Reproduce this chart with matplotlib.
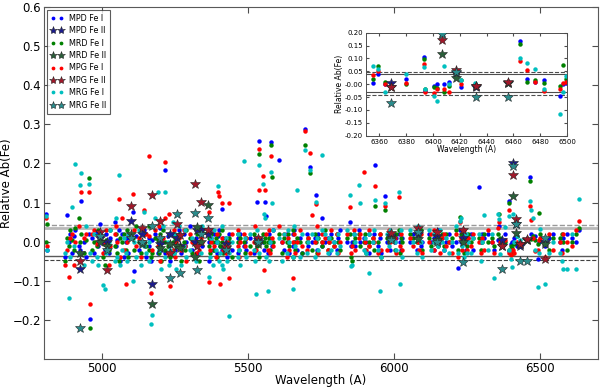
import matplotlib
matplotlib.use('Agg')
import matplotlib.pyplot as plt
import numpy as np

# Fe I lines: wavelength and relative abundance for each star
fe1_wave = [4809, 4810, 4871, 4881, 4886, 4891, 4898, 4903, 4906, 4919,
            4924, 4929, 4938, 4946, 4954, 4957, 4966, 4973, 4982, 4985,
            4994, 5002, 5010, 5014, 5023, 5028, 5044, 5049, 5051, 5058,
            5060, 5067, 5074, 5081, 5084, 5090, 5105, 5109, 5115, 5127,
            5133, 5142, 5144, 5150, 5159, 5162, 5166, 5171, 5180, 5192,
            5194, 5198, 5202, 5208, 5214, 5216, 5225, 5229, 5232, 5242,
            5247, 5250, 5253, 5263, 5269, 5281, 5284, 5288, 5302, 5307,
            5322, 5324, 5332, 5339, 5341, 5365, 5367, 5369, 5373, 5379,
            5383, 5389, 5393, 5398, 5400, 5405, 5410, 5412, 5415, 5424,
            5429, 5434, 5436, 5445, 5464, 5466, 5470, 5473, 5487, 5491,
            5494, 5506, 5522, 5525, 5528, 5530, 5537, 5539, 5551, 5554,
            5559, 5563, 5569, 5572, 5576, 5580, 5583, 5586, 5606, 5618,
            5624, 5633, 5638, 5641, 5653, 5655, 5658, 5662, 5668, 5679,
            5686, 5694, 5701, 5705, 5714, 5719, 5731, 5734, 5738, 5741,
            5753, 5755, 5762, 5775, 5778, 5784, 5793, 5806, 5809, 5815,
            5838, 5848, 5852, 5855, 5862, 5866, 5880, 5883, 5897, 5902,
            5905, 5914, 5916, 5927, 5930, 5934, 5947, 5952, 5956, 5969,
            5975, 5984, 5987, 6003, 6008, 6018, 6022, 6024, 6027, 6056,
            6065, 6078, 6082, 6085, 6093, 6096, 6120, 6127, 6136, 6137,
            6151, 6157, 6165, 6173, 6180, 6187, 6200, 6213, 6219, 6226,
            6230, 6232, 6240, 6246, 6252, 6254, 6265, 6270, 6293, 6297,
            6301, 6310, 6322, 6335, 6342, 6355, 6359, 6364, 6380, 6393,
            6394, 6401, 6403, 6408, 6412, 6421, 6431, 6465, 6470, 6476,
            6483, 6495, 6497, 6499, 6518, 6533, 6546, 6569, 6575, 6581,
            6593, 6609, 6625, 6633]

mpd_fe1 = [0.07, -0.02, -0.04, 0.067, 0.0, 0.02, -0.03, 0.015, 0.03, -0.01,
           -0.02, 0.105, 0.0, -0.04, 0.02, -0.198, 0.01, -0.03, 0.025, -0.01,
           0.045, 0.0, -0.02, 0.02, -0.03, 0.01, 0.05, -0.01, 0.005, 0.03,
           -0.05, 0.02, -0.04, 0.0, 0.01, -0.03, 0.077, -0.076, 0.015, -0.02,
           0.0, 0.03, 0.02, -0.04, 0.01, -0.01, -0.05, 0.005, 0.02, -0.03,
           0.0, 0.035, -0.02, 0.0, 0.183, -0.03, 0.015, -0.01, -0.05, 0.02,
           0.0, -0.02, 0.01, 0.03, -0.03, 0.02, -0.01, 0.0, 0.04, -0.02,
           0.01, -0.03, 0.0, 0.02, -0.01, 0.0, -0.05, 0.03, 0.01, -0.02,
           0.02, 0.0, -0.03, 0.015, 0.03, -0.01, 0.084, -0.02, 0.01, 0.0,
           -0.04, 0.02, 0.0, -0.02, 0.01, -0.03, 0.0, 0.02, -0.01, 0.0,
           -0.02, 0.01, -0.03, 0.0, 0.01, 0.102, 0.258, 0.01, 0.0, -0.02,
           0.101, 0.065, -0.03, 0.02, 0.0, 0.254, -0.01, 0.03, 0.209, 0.0,
           -0.02, 0.02, 0.0, -0.03, 0.02, -0.01, 0.03, 0.0, -0.02, 0.01,
           -0.03, 0.288, 0.02, -0.01, 0.192, 0.0, 0.01, 0.12, -0.02, 0.02,
           0.061, -0.01, 0.0, 0.01, -0.03, 0.02, 0.0, -0.02, 0.01, 0.03,
           0.0, 0.05, -0.01, 0.0, 0.02, -0.01, 0.03, 0.0, 0.01, -0.02,
           0.0, 0.02, -0.03, 0.0, 0.02, 0.196, -0.01, 0.01, -0.03, 0.116,
           0.0, 0.02, -0.02, 0.0, 0.01, 0.02, 0.0, -0.02, 0.01, 0.0,
           0.02, -0.02, 0.01, 0.03, -0.01, 0.0, 0.02, 0.0, 0.01, -0.02,
           0.03, 0.0, 0.01, -0.02, 0.0, 0.02, -0.01, 0.0, -0.067, 0.03,
           0.0, 0.02, 0.01, -0.02, 0.0, 0.01, 0.02, -0.02, 0.141, 0.0,
           0.02, 0.01, 0.02, 0.0, -0.02, 0.005, 0.04, 0.0, 0.02, 0.105,
           -0.025, -0.005, 0.0, 0.0, 0.01, -0.01, -0.01, 0.166, 0.02, 0.01,
           0.015, -0.045, 0.0, 0.005, -0.01, 0.01, 0.02, 0.0, -0.02, 0.01,
           0.02, 0.01, 0.0, 0.03]

mrd_fe1 = [0.0, 0.045, -0.05, 0.01, -0.01, 0.03, 0.005, -0.02, 0.035, 0.06,
           0.0, 0.02, -0.03, 0.005, 0.163, -0.22, -0.02, 0.0, -0.01, 0.03,
           0.02, -0.04, -0.06, 0.005, -0.02, 0.03, -0.01, 0.02, -0.03, -0.05,
           0.01, 0.0, 0.02, -0.02, 0.03, -0.04, 0.01, -0.02, 0.04, 0.0,
           -0.03, 0.02, 0.0, -0.01, 0.04, -0.02, -0.04, -0.03, 0.01, 0.005,
           -0.03, 0.02, -0.05, 0.03, 0.0, -0.02, -0.01, 0.02, -0.04, 0.0,
           -0.03, 0.01, -0.01, 0.02, -0.05, 0.0, -0.02, 0.03, 0.01, -0.03,
           -0.01, 0.02, -0.05, 0.0, 0.03, -0.01, 0.01, -0.03, 0.02, 0.0,
           -0.02, 0.01, -0.04, 0.0, 0.02, -0.01, 0.03, 0.0, -0.03, 0.01,
           -0.02, 0.0, 0.01, -0.04, 0.02, 0.0, -0.02, 0.01, 0.0, -0.03,
           0.01, -0.01, 0.02, -0.02, 0.0, -0.01, 0.224, -0.04, 0.02, 0.0,
           0.01, -0.01, 0.0, 0.01, -0.02, 0.248, 0.166, 0.0, 0.02, -0.03,
           0.01, 0.0, 0.02, -0.01, 0.03, -0.04, 0.0, -0.02, 0.01, 0.0,
           -0.03, 0.247, 0.0, 0.01, 0.175, -0.02, 0.02, 0.0, -0.03, 0.01,
           0.0, -0.01, 0.03, -0.02, 0.0, 0.01, -0.01, 0.02, 0.0, -0.02,
           0.01, 0.02, -0.04, -0.05, 0.0, 0.01, 0.02, -0.01, 0.0, 0.02,
           -0.03, 0.0, -0.01, 0.01, -0.02, 0.092, 0.0, 0.02, -0.04, 0.08,
           0.01, 0.0, 0.01, -0.02, 0.02, 0.03, -0.03, 0.01, 0.0, 0.02,
           0.01, 0.0, 0.02, 0.0, 0.03, -0.02, 0.01, -0.01, 0.02, 0.0,
           -0.01, 0.01, 0.02, -0.01, 0.02, 0.0, 0.01, 0.03, -0.02, 0.063,
           0.02, 0.0, -0.03, 0.01, -0.01, 0.02, 0.0, 0.01, 0.01, -0.02,
           0.0, 0.02, 0.0, 0.01, -0.01, 0.02, 0.07, 0.01, 0.0, 0.098,
           -0.02, -0.01, -0.015, -0.03, -0.005, 0.015, -0.01, 0.155, 0.007, 0.015,
           0.005, -0.005, 0.074, 0.02, 0.0, -0.02, 0.01, 0.01, 0.02, 0.0,
           -0.02, 0.0, 0.02, 0.035]

mpg_fe1 = [0.06, -0.01, -0.06, -0.02, -0.09, 0.01, 0.02, -0.06, 0.0, 0.04,
           -0.03, 0.126, 0.01, 0.02, 0.127, -0.158, 0.02, 0.03, -0.005, 0.0,
           0.025, -0.03, -0.005, 0.03, -0.06, -0.01, 0.02, 0.04, 0.0, 0.109,
           -0.04, 0.06, -0.02, -0.109, 0.0, 0.02, 0.122, 0.03, -0.01, 0.01,
           -0.04, 0.0, 0.08, 0.02, 0.015, 0.22, -0.13, -0.02, 0.03, -0.01,
           0.04, -0.05, 0.0, 0.01, 0.205, 0.06, -0.03, 0.07, -0.114, -0.02,
           0.03, -0.04, 0.0, 0.01, -0.02, 0.03, -0.01, -0.05, 0.02, 0.0,
           -0.03, 0.03, -0.02, 0.01, 0.0, 0.075, -0.104, -0.02, 0.0, 0.03,
           -0.01, -0.04, 0.02, 0.128, 0.118, -0.107, 0.098, 0.01, -0.02, -0.03,
           0.0, -0.093, 0.098, 0.02, -0.01, 0.03, -0.04, 0.0, 0.02, -0.01,
           0.01, -0.03, 0.0, 0.04, -0.02, 0.0, 0.238, 0.131, 0.169, -0.073,
           0.131, 0.02, -0.02, 0.03, -0.03, 0.218, 0.01, -0.01, 0.04, 0.0,
           0.02, -0.04, 0.01, -0.02, 0.0, -0.094, 0.02, -0.03, 0.0, 0.03,
           -0.01, 0.282, -0.02, 0.01, 0.226, 0.069, 0.0, 0.097, 0.04, -0.03,
           0.02, 0.0, 0.01, -0.02, 0.0, 0.03, -0.01, 0.02, -0.03, 0.0,
           0.02, 0.088, -0.03, -0.01, 0.03, -0.02, 0.01, 0.02, 0.177, 0.0,
           -0.02, 0.03, -0.01, 0.01, 0.0, 0.143, -0.03, 0.02, -0.02, 0.09,
           -0.02, 0.03, 0.0, 0.01, -0.03, 0.115, -0.01, 0.02, -0.02, 0.01,
           -0.01, 0.03, 0.0, -0.02, 0.02, -0.03, 0.0, 0.02, -0.02, 0.03,
           0.0, -0.03, 0.01, 0.02, -0.01, 0.0, -0.03, 0.02, -0.04, 0.05,
           0.01, -0.02, 0.03, 0.0, -0.02, 0.01, -0.01, 0.02, 0.0, -0.03,
           0.01, -0.02, 0.03, 0.0, -0.03, 0.035, 0.05, 0.0, 0.005, 0.08,
           -0.03, -0.035, -0.02, -0.02, -0.03, 0.0, 0.0, 0.09, 0.055, 0.01,
           -0.025, -0.02, 0.005, 0.01, -0.04, 0.02, -0.02, 0.0, -0.03, 0.02,
           0.0, -0.01, 0.03, 0.054]

mrg_fe1 = [0.065, -0.02, -0.03, 0.0, -0.145, -0.04, 0.088, -0.01, 0.198, -0.03,
           0.146, 0.175, -0.06, 0.04, 0.148, -0.03, -0.05, 0.02, -0.04, -0.06,
           0.01, -0.11, -0.12, -0.03, 0.0, 0.03, -0.05, 0.06, -0.04, 0.171,
           -0.06, -0.02, 0.01, -0.03, -0.05, 0.02, -0.1, 0.0, -0.04, 0.03,
           -0.06, -0.01, 0.077, -0.03, 0.0, -0.05, -0.211, -0.188, 0.06, 0.126,
           -0.02, 0.0, -0.07, 0.04, 0.127, -0.04, 0.0, -0.06, -0.02, 0.05,
           -0.03, 0.02, -0.07, 0.04, -0.06, -0.01, 0.03, -0.04, -0.02, 0.01,
           -0.05, 0.0, 0.03, -0.03, 0.04, 0.02, -0.09, -0.04, 0.01, -0.06,
           0.03, -0.02, 0.0, 0.142, -0.05, -0.03, -0.06, 0.04, -0.07, 0.01,
           -0.05, -0.19, -0.03, 0.0, -0.04, 0.02, -0.02, -0.06, 0.207, 0.01,
           -0.04, 0.02, -0.02, -0.05, -0.134, 0.03, 0.196, -0.03, 0.148, 0.071,
           0.06, -0.04, -0.127, -0.05, 0.0, 0.179, 0.098, 0.03, 0.01, -0.05,
           0.02, -0.03, 0.03, 0.0, -0.04, -0.122, 0.04, -0.01, 0.132, -0.04,
           0.02, 0.235, -0.03, 0.0, 0.183, 0.02, -0.04, 0.101, 0.01, -0.02,
           0.03, 0.221, 0.02, -0.03, 0.01, -0.02, 0.0, -0.03, 0.02, -0.01,
           0.03, 0.12, -0.063, -0.06, 0.02, 0.0, 0.145, 0.098, -0.02, 0.01,
           -0.03, 0.02, -0.079, 0.0, 0.03, 0.107, -0.02, -0.126, -0.04, 0.098,
           0.02, -0.01, 0.03, 0.0, -0.02, 0.128, -0.107, 0.03, -0.04, 0.03,
           0.0, -0.03, 0.04, 0.01, 0.0, -0.04, 0.03, -0.02, 0.0, 0.02,
           -0.01, 0.03, 0.0, -0.02, 0.01, -0.03, 0.0, 0.04, -0.03, 0.053,
           0.06, -0.01, -0.04, 0.02, -0.03, 0.0, -0.03, 0.01, 0.02, -0.05,
           0.0, 0.067, -0.02, 0.02, -0.092, 0.072, 0.059, -0.031, 0.038, 0.065,
           -0.02, -0.045, -0.065, 0.07, 0.0, 0.015, 0.005, 0.103, 0.081, 0.06,
           -0.02, -0.116, -0.03, 0.032, -0.109, -0.03, 0.0, -0.03, -0.05, -0.07,
           -0.07, 0.02, -0.07, 0.108]

# Fe II lines
fe2_wave = [4925, 4993, 5018, 5100, 5135, 5170, 5197, 5234, 5257, 5266,
            5317, 5326, 5338, 5363, 5425, 5535, 5991, 6082, 6147, 6238,
            6369, 6407, 6417, 6432, 6456, 6516]
mpd_fe2 = [-0.07, 0.01, 0.0, 0.052, 0.02, -0.109, -0.005, 0.02, 0.01, -0.01,
           0.0, 0.031, 0.03, 0.02, -0.005, 0.005, 0.015, 0.02, 0.014, 0.01,
           0.005, 0.2, 0.045, -0.01, 0.004, 0.0]
mrd_fe2 = [-0.03, 0.0, -0.01, 0.02, -0.005, -0.16, -0.015, -0.005, -0.01, -0.015,
           -0.04, 0.038, 0.0, 0.094, -0.015, -0.005, 0.01, 0.008, 0.005, 0.0,
           -0.01, 0.118, 0.023, -0.005, 0.004, -0.005]
mpg_fe2 = [-0.05, 0.026, -0.072, 0.092, 0.035, 0.12, 0.054, -0.03, 0.044, 0.018,
           0.148, -0.01, 0.102, 0.03, -0.013, 0.01, 0.022, 0.035, 0.025, 0.03,
           -0.011, 0.171, 0.057, -0.005, 0.007, -0.043]
mrg_fe2 = [-0.22, 0.015, -0.02, 0.01, 0.0, 0.039, 0.01, -0.094, 0.07, -0.08,
           0.073, -0.073, 0.02, 0.061, -0.02, 0.0, 0.005, 0.025, 0.0, -0.052,
           -0.071, 0.193, 0.046, -0.049, -0.049, 0.009]

stars = ['MPD', 'MRD', 'MPG', 'MRG']
fe1_vals = [mpd_fe1, mrd_fe1, mpg_fe1, mrg_fe1]
fe2_vals = [mpd_fe2, mrd_fe2, mpg_fe2, mrg_fe2]
dot_colors = ['#0000ff', '#008000', '#ff0000', '#00bfbf']
star_colors = ['#1c1c8c', '#2a5f3a', '#a0182a', '#2a8c8c']

fig = plt.figure(figsize=(6, 3.89), dpi=100)
ax = fig.add_axes([0.073, 0.077, 0.924, 0.905])
ax_in = fig.add_axes([0.61, 0.651, 0.335, 0.265])

# reference bands
ax.axhline(0.043, color='0.6', ls='--', lw=1, zorder=1)
ax.axhline(0.035, color='0.72', lw=2, zorder=1)
ax.axhline(-0.036, color='0.35', lw=1, zorder=1)
ax.axhline(-0.046, color='0.25', ls='--', lw=0.8, zorder=1)
for y, ls in [(0.046, '--'), (0.040, '-'), (-0.032, '-'), (-0.043, '--')]:
    ax_in.axhline(y, color='0.3', ls=ls, lw=0.8, zorder=1)

for a in [ax, ax_in]:
    for name, v1, v2, c1, c2 in zip(stars, fe1_vals, fe2_vals, dot_colors, star_colors):
        a.plot(fe1_wave, v1, ls='none', marker='o', ms=3.2, mfc=c1, mec=c1,
               mew=0, label=name + ' Fe I', zorder=2)
        a.plot(fe2_wave, v2, ls='none', marker='*', ms=7, mfc=c2, mec='0.15',
               mew=0.4, label=name + ' Fe II', zorder=3)

ax.set_xlim(4800, 6700)
ax.set_ylim(-0.3, 0.6)
ax.set_xticks([5000, 5500, 6000, 6500])
ax.set_yticks([-0.2, -0.1, 0.0, 0.1, 0.2, 0.3, 0.4, 0.5, 0.6])
ax.tick_params(direction='in', top=True, right=True, labelsize=8.5, length=4,
               color='0.3', pad=2)
for s in ax.spines.values():
    s.set_color('0.35')
ax.set_xlabel('Wavelength (A)', fontsize=8.5, labelpad=-0.5)
ax.set_ylabel('Relative Ab(Fe)', fontsize=8.5, labelpad=0)

leg = ax.legend(loc='upper left', fontsize=5.8, numpoints=2, handlelength=1.6,
                handletextpad=0.7, labelspacing=0.42, borderaxespad=0.35,
                fancybox=False, borderpad=0.5, markerscale=0.85)
leg.get_frame().set_edgecolor('0.2')
leg.get_frame().set_linewidth(0.8)

ax_in.set_xlim(6350, 6500)
ax_in.set_ylim(-0.2, 0.2)
ax_in.set_xticks(np.arange(6360, 6501, 20))
ax_in.set_yticks(np.arange(-0.2, 0.201, 0.05))
ax_in.yaxis.set_major_formatter(matplotlib.ticker.FormatStrFormatter('%.2f'))
ax_in.tick_params(direction='in', top=True, right=True, labelsize=5, length=2.5,
                  pad=2, color='0.3')
for s in ax_in.spines.values():
    s.set_color('0.3')
    s.set_linewidth(0.7)
ax_in.set_xlabel('Wavelength (A)', fontsize=5.5, labelpad=0)
ax_in.set_ylabel('Relative Ab(Fe)', fontsize=5.5, labelpad=1)

fig.savefig('out.png', dpi=100)
